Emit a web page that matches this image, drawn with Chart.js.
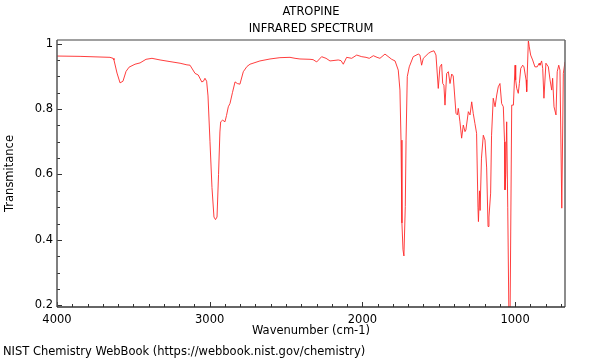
<!DOCTYPE html>
<html>
<head>
<meta charset="utf-8">
<script src="https://cdn.jsdelivr.net/npm/chart.js@4"></script>
<style>
  html, body { margin: 0; padding: 0; background: #fff; }
  #wrap { width: 600px; height: 360px; }
</style>
</head>
<body>
<div id="wrap"><canvas id="irChart" width="600" height="360"></canvas></div>
<script>
const chartTitle = 'ATROPINE';
const chartSubtitle = 'INFRARED SPECTRUM';
const xLabel = 'Wavenumber (cm-1)';
const yLabel = 'Transmitance';
const footer = 'NIST Chemistry WebBook (https://webbook.nist.gov/chemistry)';

const xRange = [673, 4000];
const yRange = [0.195, 1.011];
const xTicks = [1000, 2000, 3000, 4000];
const yTicks = [0.2, 0.4, 0.6, 0.8, 1];

// wavenumber (cm-1)
const wavenumbers = [
  4000, 3849, 3653, 3633, 3627, 3607, 3587, 3568, 3548, 3528,
  3489, 3456, 3417, 3378, 3325, 3260, 3194, 3149, 3129, 3096,
  3075, 3052, 3041, 3031, 3020, 3011, 2998, 2985, 2972, 2962,
  2952, 2942, 2933, 2928, 2915, 2900, 2890, 2878, 2867, 2851,
  2834, 2819, 2802, 2780, 2756, 2736, 2671, 2605, 2540, 2474,
  2441, 2409, 2343, 2323, 2299, 2267, 2238, 2212, 2158, 2140,
  2125, 2103, 2070, 2037, 2004, 1976, 1955, 1928, 1904, 1885,
  1852, 1808, 1786, 1765, 1754, 1747, 1741, 1734, 1728, 1719,
  1714, 1706, 1693, 1667, 1634, 1623, 1612, 1601, 1568, 1551,
  1531, 1518, 1503, 1492, 1481, 1474, 1466, 1459, 1448, 1437,
  1426, 1415, 1405, 1387, 1378, 1372, 1361, 1350, 1339, 1328,
  1322, 1306, 1295, 1284, 1274, 1263, 1252, 1243, 1240, 1233,
  1229, 1220, 1208, 1197, 1186, 1177, 1171, 1160, 1154, 1143,
  1131, 1120, 1110, 1099, 1088, 1077, 1069, 1066, 1061, 1055,
  1048, 1040, 1033, 1022, 1011, 1000, 996, 989, 979, 972,
  963, 950, 942, 928, 924, 913, 907, 898, 885, 870,
  855, 842, 837, 826, 819, 811, 798, 782, 771, 760,
  754, 745, 732, 724, 714, 706, 694, 684, 673
];

const transmittance = [
  0.962, 0.961, 0.958, 0.955, 0.95, 0.91, 0.880, 0.885, 0.915, 0.928,
  0.937, 0.941, 0.952, 0.955, 0.950, 0.945, 0.940, 0.935, 0.934, 0.909,
  0.904, 0.883, 0.885, 0.894, 0.885, 0.84, 0.70, 0.56, 0.47, 0.462,
  0.47, 0.6, 0.73, 0.761, 0.766, 0.761, 0.78, 0.807, 0.817, 0.85,
  0.883, 0.878, 0.876, 0.914, 0.93, 0.937, 0.947, 0.953, 0.957, 0.958,
  0.955, 0.953, 0.952, 0.951, 0.944, 0.960, 0.955, 0.947, 0.950, 0.948,
  0.937, 0.958, 0.955, 0.965, 0.960, 0.958, 0.955, 0.963, 0.958, 0.955,
  0.968, 0.952, 0.947, 0.919, 0.858, 0.705, 0.452, 0.37, 0.351, 0.502,
  0.705, 0.899, 0.929, 0.960, 0.968, 0.965, 0.934, 0.955, 0.970, 0.975,
  0.978, 0.965, 0.863, 0.929, 0.937, 0.878, 0.873, 0.812, 0.909, 0.914,
  0.878, 0.907, 0.901, 0.787, 0.782, 0.802, 0.761, 0.711, 0.751, 0.731,
  0.736, 0.792, 0.782, 0.822, 0.787, 0.756, 0.726, 0.50, 0.456, 0.55,
  0.49, 0.65, 0.72, 0.705, 0.62, 0.441, 0.47, 0.543, 0.72, 0.833,
  0.807, 0.843, 0.868, 0.878, 0.817, 0.807, 0.70, 0.553, 0.6, 0.761,
  0.5, 0.15, 0.15, 0.812, 0.812, 0.934, 0.889, 0.863, 0.848, 0.878,
  0.924, 0.934, 0.929, 0.889, 0.853, 1.01, 0.99, 0.965, 0.950, 0.929,
  0.929, 0.940, 0.934, 0.947, 0.924, 0.833, 0.940, 0.929, 0.889, 0.858,
  0.894, 0.807, 0.782, 0.914, 0.934, 0.919, 0.497, 0.909, 0.944
];

const FONT = '"DejaVu Sans", sans-serif';
Chart.defaults.font.family = FONT;
Chart.defaults.font.size = 11.5;
Chart.defaults.color = '#000';

// frame, inward ticks and the texts round the plot
const framePlugin = {
  id: 'frame',
  afterDraw(chart) {
    const { ctx, chartArea: a, scales } = chart;
    const xs = scales.x, ys = scales.y;
    ctx.save();

    // minor / major ticks, pointing into the plot
    ctx.strokeStyle = '#333';
    ctx.lineWidth = 1;
    for (let w = 700; w <= xRange[1]; w += 100) {
      const px = Math.round(xs.getPixelForValue(w)) + 0.5;
      const len = w % 1000 === 0 ? 5 : 3;
      ctx.beginPath();
      ctx.moveTo(px, a.bottom);
      ctx.lineTo(px, a.bottom - len);
      ctx.stroke();
    }
    for (let i = 4; i <= 20; i++) {
      const v = i * 0.05;
      const py = Math.round(ys.getPixelForValue(v)) + 0.5;
      const len = i % 4 === 0 ? 5 : 3;
      ctx.beginPath();
      ctx.moveTo(a.left, py);
      ctx.lineTo(a.left + len, py);
      ctx.stroke();
    }

    // borders
    ctx.lineWidth = 2;
    ctx.strokeStyle = '#a0a0a0';
    ctx.beginPath(); ctx.moveTo(a.left, a.top); ctx.lineTo(a.right, a.top); ctx.stroke();
    ctx.lineWidth = 1.5;
    ctx.strokeStyle = '#666';
    ctx.beginPath(); ctx.moveTo(a.right, a.top); ctx.lineTo(a.right, a.bottom); ctx.stroke();
    ctx.strokeStyle = '#555';
    ctx.beginPath(); ctx.moveTo(a.left, a.top); ctx.lineTo(a.left, a.bottom); ctx.stroke();
    ctx.strokeStyle = '#333';
    ctx.beginPath(); ctx.moveTo(a.left, a.bottom); ctx.lineTo(a.right, a.bottom); ctx.stroke();

    // texts
    const cx = (a.left + a.right) / 2;
    ctx.fillStyle = '#000';
    ctx.font = '11.5px ' + FONT;
    ctx.textAlign = 'center';
    ctx.textBaseline = 'middle';
    ctx.fillText(chartTitle, cx, 12);
    ctx.fillText(chartSubtitle, cx, 29);
    ctx.fillText(xLabel, cx, 331);
    ctx.save();
    ctx.translate(10, (a.top + a.bottom) / 2);
    ctx.rotate(-Math.PI / 2);
    ctx.fillText(yLabel, 0, 0);
    ctx.restore();
    ctx.textAlign = 'left';
    ctx.fillText(footer, 3, 352);
    ctx.restore();
  }
};

new Chart(document.getElementById('irChart'), {
  type: 'line',
  data: {
    datasets: [{
      data: wavenumbers.map((w, i) => ({ x: w, y: transmittance[i] })),
      borderColor: 'rgb(255, 40, 40)',
      borderWidth: 0.9,
      pointRadius: 0,
      tension: 0,
      fill: false
    }]
  },
  options: {
    responsive: false,
    animation: false,
    events: [],
    layout: { padding: { left: 0, right: 35, top: 40, bottom: 0 } },
    plugins: { legend: { display: false }, tooltip: { enabled: false } },
    scales: {
      x: {
        type: 'linear',
        reverse: true,
        min: xRange[0],
        max: xRange[1],
        afterBuildTicks: s => { s.ticks = xTicks.map(v => ({ value: v })); },
        afterFit: s => { s.height = 53; },
        grid: { display: false, drawTicks: false },
        border: { display: false },
        ticks: { padding: 6, maxRotation: 0, autoSkip: false, callback: v => String(v) }
      },
      y: {
        type: 'linear',
        min: yRange[0],
        max: yRange[1],
        afterBuildTicks: s => { s.ticks = yTicks.map(v => ({ value: v })); },
        afterFit: s => { s.width = 57; },
        grid: { display: false, drawTicks: false },
        border: { display: false },
        ticks: { padding: 4, autoSkip: false, callback: v => String(v) }
      }
    }
  },
  plugins: [framePlugin]
});
</script>
</body>
</html>
